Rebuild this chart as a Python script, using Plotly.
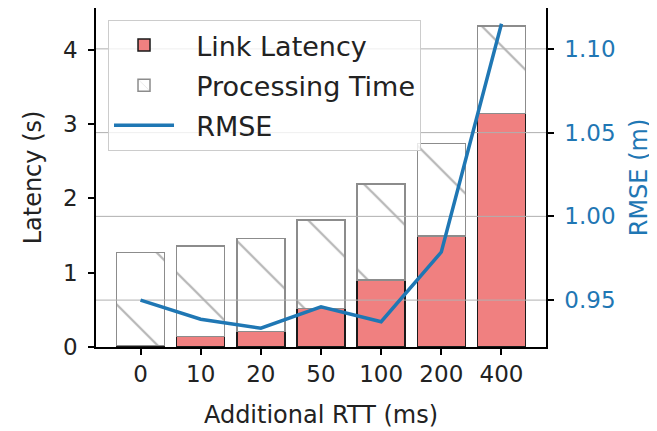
import plotly.graph_objects as go

categories = ["0", "10", "20", "50", "100", "200", "400"]
link_latency = [0.02, 0.14, 0.21, 0.52, 0.90, 1.49, 3.14]
processing_time = [1.25, 1.22, 1.25, 1.19, 1.29, 1.25, 1.18]
rmse = [0.950, 0.9386, 0.9332, 0.9460, 0.9371, 0.9787, 1.115]

left_ticks = [0, 1, 2, 3, 4]
right_ticks = [0.95, 1.00, 1.05, 1.10]
right_ticktext = ["0.95", "1.00", "1.05", "1.10"]

FONT = "DejaVu Sans"
BLUE = "#1f77b4"
TXT = "#222222"
FS = 23
PAD = "\u00a0\u00a0"

pos = list(range(len(categories)))
x_lo, x_hi = -0.74, len(categories) - 1 + 0.74

fig = go.Figure()

fig.add_trace(go.Bar(
    x=pos, y=link_latency, name=PAD + "Link Latency",
    marker=dict(color="#F08080", line=dict(color="#1a1a1a", width=1.5)),
    legendgroup="a", yaxis="y",
))
fig.add_trace(go.Bar(
    x=pos, y=processing_time, name=PAD + "Processing Time",
    marker=dict(color="white", line=dict(color="#8c8c8c", width=1.5),
                pattern=dict(shape="\\", fgcolor="#6e6e6e", bgcolor="white",
                             size=65, solidity=0.035)),
    legendgroup="b", yaxis="y",
))

# gridlines of the right axis (drawn above the bars, as in the original)
gx, gy = [], []
for t in right_ticks:
    gx += [x_lo, x_hi, None]
    gy += [t, t, None]
fig.add_trace(go.Scatter(
    x=gx, y=gy, mode="lines", line=dict(color="#b0b0b0", width=1),
    yaxis="y2", showlegend=False, hoverinfo="skip",
))

fig.add_trace(go.Scatter(
    x=pos, y=rmse, name=PAD + "RMSE", mode="lines",
    line=dict(color=BLUE, width=3.5), yaxis="y2", legendgroup="c",
))

axis_common = dict(
    showline=True, linecolor="black", linewidth=1.5,
    ticks="outside", ticklen=6, tickwidth=1.5, tickcolor="black",
    showgrid=False, zeroline=False, automargin=False,
)

fig.update_layout(
    width=649, height=423,
    margin=dict(l=88, r=111, t=0, b=84),
    paper_bgcolor="white", plot_bgcolor="white",
    barmode="stack", bargap=0.2,
    font=dict(family=FONT, size=FS, color=TXT),
    xaxis=dict(
        **axis_common, mirror=True, range=[x_lo, x_hi],
        tickmode="array", tickvals=pos, ticktext=categories,
        tickfont=dict(size=FS, color=TXT),
        title=dict(text="Additional RTT (ms)", font=dict(size=FS + 1, color=TXT), standoff=20),
    ),
    yaxis=dict(
        **axis_common, range=[0, 4.56],
        tickmode="array", tickvals=left_ticks, ticklabelstandoff=6,
        tickfont=dict(size=FS, color=TXT),
        title=dict(text="Latency (s)", font=dict(size=FS + 1, color=TXT), standoff=15),
    ),
    yaxis2=dict(
        **axis_common, overlaying="y", side="right", range=[0.922, 1.1244],
        tickmode="array", tickvals=right_ticks, ticktext=right_ticktext,
        ticklabelstandoff=6,
        tickfont=dict(size=FS, color=BLUE),
        title=dict(text="RMSE (m)", font=dict(size=FS + 1, color=BLUE), standoff=16),
    ),
    legend=dict(
        x=0.0267, y=0.9646, xanchor="left", yanchor="top",
        bgcolor="rgba(255,255,255,0.8)", bordercolor="#cccccc", borderwidth=1,
        font=dict(size=27, color=TXT), itemwidth=60, tracegroupgap=2,
        traceorder="grouped",
    ),
    showlegend=True,
)

fig.write_html("out.html")
